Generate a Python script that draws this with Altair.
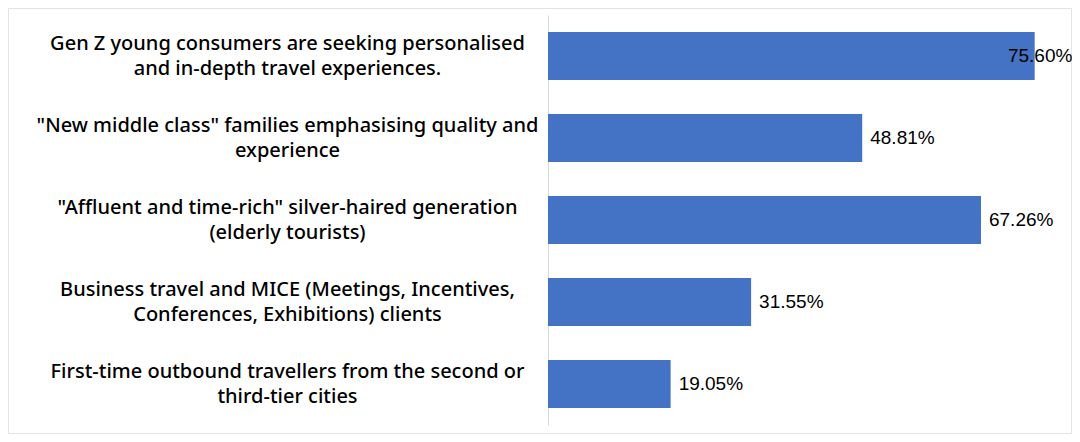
import altair as alt
import pandas as pd

categories = [
    "Gen Z young consumers are seeking personalised\nand in-depth travel experiences.",
    "\"New middle class\" families emphasising quality and\nexperience",
    "\"Affluent and time-rich\" silver-haired generation\n(elderly tourists)",
    "Business travel and MICE (Meetings, Incentives,\nConferences, Exhibitions) clients",
    "First-time outbound travellers from the second or\nthird-tier cities",
]
values = [75.60, 48.81, 67.26, 31.55, 19.05]

df = pd.DataFrame({"category": categories, "value": values})

W, H = 515, 410
PAD_L, PAD_T = 540, 7
TOT_W, TOT_H = 1064, 426
LH = 25

y_enc = alt.Y(
    "category:N",
    sort=None,
    scale=alt.Scale(paddingInner=0.415, paddingOuter=0.2075),
    axis=alt.Axis(
        title=None,
        ticks=False,
        domainColor="#d9d9d9",
        domainWidth=1,
        labelAlign="center",
        labelPadding=261,
        labelFont="Noto Sans",
        labelFontSize=20,
        labelFontWeight=500,
        labelColor="#000000",
        labelLimit=0,
        labelLineHeight=LH,
        labelOffset=-LH / 2,
        labelExpr="split(datum.label, '\\n')",
    ),
)
x_scale = alt.Scale(domain=[0, 80], nice=False)

frame = alt.Chart(pd.DataFrame({"a": [0]})).mark_rect(
    fill=None, stroke="#e3e3e3", strokeWidth=1
).encode(
    x=alt.value(-PAD_L + 0.5),
    x2=alt.value(TOT_W - PAD_L - 0.5),
    y=alt.value(-PAD_T + 0.5),
    y2=alt.value(TOT_H - PAD_T - 0.5),
)

bars = alt.Chart(df).mark_bar(color="#4472C4").encode(
    x=alt.X("value:Q", scale=x_scale, axis=None),
    y=y_enc,
)

labels = alt.Chart(df).transform_calculate(
    pos="min(datum.value, 70.2)",
    txt="format(datum.value, '.2f') + '%'",
).mark_text(
    align="left", baseline="middle", dx=8, font="Liberation Sans", fontSize=19, color="#000000"
).encode(
    x=alt.X("pos:Q", scale=x_scale),
    y=alt.Y("category:N", sort=None),
    text="txt:N",
)

chart = (
    alt.layer(frame, bars, labels)
    .properties(
        width=W,
        height=H,
        background="#ffffff",
        autosize=alt.AutoSizeParams(type="none"),
        padding={"left": PAD_L, "top": PAD_T, "right": TOT_W - PAD_L - W, "bottom": TOT_H - PAD_T - H},
    )
    .configure_view(stroke=None)
)

chart.save("out.html", embed_options={"renderer": "svg", "actions": False})
